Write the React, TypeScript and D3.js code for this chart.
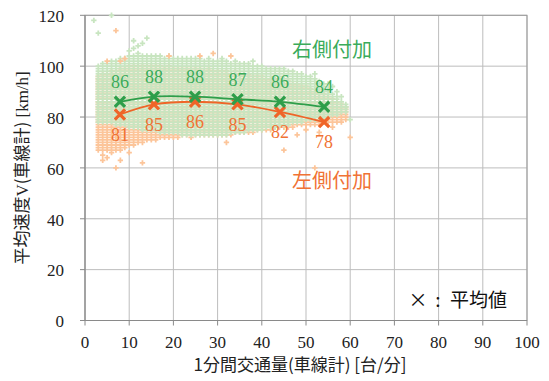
import React from 'react';
import * as d3 from 'd3';

// Traffic flow per minute (vehicles/min, all lanes), integer steps of the scatter grid
const flowSteps = [3, 4, 5, 6, 7, 8, 9, 10, 11, 12, 13, 14, 15, 16, 17, 18, 19, 20, 21, 22, 23, 24, 25, 26, 27, 28, 29, 30, 31, 32, 33, 34, 35, 36, 37, 38, 39, 40, 41, 42, 43, 44, 45, 46, 47, 48, 49, 50, 51, 52, 53, 54, 55, 56, 57, 58, 59];

// Observed speed range (km/h) per flow step — right-side added lane
const rightLow = [78, 78, 78, 78, 77, 77, 77, 76, 76, 76, 75, 75, 75, 75, 74, 74, 74, 74, 74, 73, 73, 73, 73, 73, 73, 73, 73, 73, 73, 73, 74, 74, 74, 74, 75, 75, 75, 75, 76, 76, 76, 77, 77, 77, 78, 78, 78, 79, 79, 79, 80, 80, 80, 81, 81, 82, 82];
const rightHigh = [100, 101, 101, 102, 102, 103, 103, 104, 104, 105, 104, 104, 104, 104, 104, 103, 104, 103, 103, 103, 103, 103, 103, 103, 102, 103, 102, 102, 102, 102, 101, 102, 101, 101, 101, 100, 100, 100, 99, 99, 99, 99, 99, 98, 98, 97, 97, 96, 96, 95, 94, 93, 91, 89, 88, 86, 85];

// Observed speed range (km/h) per flow step — left-side added lane
const leftLow = [67, 67, 67, 66, 67, 67, 68, 69, 69, 70, 70, 71, 71, 71, 72, 72, 72, 72, 72, 73, 73, 72, 73, 73, 73, 73, 73, 73, 73, 73, 73, 74, 74, 74, 74, 74, 75, 75, 75, 75, 76, 76, 76, 76, 76, 77, 77, 77, 77, 77, 77, 78, 78, 78, 78, 79, 79];
const leftHigh = [96, 97, 97, 98, 98, 99, 99, 100, 100, 100, 100, 100, 100, 100, 100, 99, 100, 99, 99, 99, 99, 99, 99, 99, 98, 99, 98, 98, 98, 98, 97, 98, 97, 97, 97, 96, 96, 96, 95, 95, 95, 95, 94, 94, 93, 93, 92, 92, 91, 90, 90, 89, 88, 87, 86, 85, 84];

// Isolated observations outside the dense range: [flow, speed]
const rightOutliers: [number, number][] = [
  [2, 118], [3, 113], [6, 120], [11, 110], [11, 107], [12, 108], [13, 109], [14, 111], [10, 106],
  [31, 103], [38, 102], [52, 97], [55, 93], [56, 92], [58, 88], [59, 84], [60, 79], [57, 90],
];
const leftOutliers: [number, number][] = [
  [7, 114], [8, 102], [9, 103], [19, 104], [26, 104], [29, 105], [33, 104], [5, 102],
  [4, 65], [4, 63], [7, 60], [8, 63], [13, 62], [5, 64], [10, 66],
  [32, 70], [45, 67], [52, 60], [48, 73], [50, 75], [58, 78], [60, 72], [56, 76], [53, 74],
];

// Mean speed per flow class
const meanFlow = [7.9, 15.6, 24.9, 34.5, 44.1, 54.1];
const rightMean = [86, 88, 88, 87, 86, 84];
const leftMean = [81, 85, 86, 85, 82, 78];

const xTicks = [0, 10, 20, 30, 40, 50, 60, 70, 80, 90, 100];
const yTicks = [0, 20, 40, 60, 80, 100, 120];

const W = 549;
const H = 381;
const plot = { left: 85, right: 527, top: 15.3, bottom: 320.5 };

const GREEN = '#2e9e4a';
const GREEN_TEXT = '#3aab5a';
const GREEN_DOT = '#c8e5c0';
const ORANGE = '#ef6528';
const ORANGE_TEXT = '#f07234';
const ORANGE_DOT = '#fcc59a';

const SERIF = 'Times New Roman';
const JP = 'Noto Sans CJK JP';

const x = d3.scaleLinear().domain([0, 100]).range([plot.left, plot.right]);
const y = d3.scaleLinear().domain([0, 120]).range([plot.bottom, plot.top]);

// stroked × used for the mean markers
const xMark = d3.symbol(d3.symbolTimes, 70)() as string;

function cloudPoints(lo: number[], hi: number[]): [number, number][] {
  const pts: [number, number][] = [];
  flowSteps.forEach((f, i) => {
    for (let v = lo[i]; v <= hi[i]; v++) pts.push([f, v]);
  });
  return pts;
}

// small crosses for the observations, merged into one path
function dotsPath(pts: [number, number][]): string {
  const p = d3.path();
  pts.forEach(([f, v]) => {
    const cx = x(f);
    const cy = y(v);
    const ctx = {
      moveTo: (a: number, b: number) => p.moveTo(a + cx, b + cy),
      lineTo: (a: number, b: number) => p.lineTo(a + cx, b + cy),
      closePath: () => p.closePath(),
    };
    d3.symbolCross.draw(ctx as any, 16);
  });
  return p.toString();
}

function MeanSeries({ values, color, textColor, above }: { values: number[]; color: string; textColor: string; above: boolean }) {
  const line = d3
    .line<number>()
    .x((_, i) => x(meanFlow[i]))
    .y((v) => y(v))
    .curve(d3.curveCatmullRom.alpha(0.5));
  return (
    <g>
      <path d={line(values) as string} fill="none" stroke={color} strokeWidth={1.8} />
      {values.map((v, i) => (
        <path
          key={i}
          d={xMark}
          transform={`translate(${x(meanFlow[i])},${y(v)})`}
          fill="none"
          stroke={color}
          strokeWidth={3.2}
        />
      ))}
      {values.map((v, i) => (
        <text
          key={'t' + i}
          x={x(meanFlow[i])}
          y={y(v) + (above ? -20 : 20)}
          dy="0.35em"
          textAnchor="middle"
          fontSize={18}
          fill={textColor}
        >
          {v}
        </text>
      ))}
    </g>
  );
}

export default function App() {
  return (
    <svg
      width={W}
      height={H}
      fontFamily={SERIF}
      style={{ position: 'absolute', left: 0, top: 0, background: '#fff', fontFamily: SERIF }}
    >
      {/* grid */}
      <g stroke="#bdbdbd" strokeWidth={1}>
        {xTicks.map((t) => (
          <line key={'gx' + t} x1={x(t)} x2={x(t)} y1={plot.top} y2={plot.bottom} />
        ))}
        {yTicks.map((t) => (
          <line key={'gy' + t} x1={plot.left} x2={plot.right} y1={y(t)} y2={y(t)} />
        ))}
      </g>
      <rect x={plot.left} y={plot.top} width={plot.right - plot.left} height={plot.bottom - plot.top} fill="none" stroke="#9a9a9a" />

      {/* scatter clouds */}
      <path d={dotsPath(cloudPoints(leftLow, leftHigh))} fill={ORANGE_DOT} />
      <path d={dotsPath(cloudPoints(rightLow, rightHigh))} fill={GREEN_DOT} />
      <path d={dotsPath(leftOutliers)} fill={ORANGE_DOT} />
      <path d={dotsPath(rightOutliers)} fill={GREEN_DOT} />

      {/* means */}
      <MeanSeries values={leftMean} color={ORANGE} textColor={ORANGE_TEXT} above={false} />
      <MeanSeries values={rightMean} color={GREEN} textColor={GREEN_TEXT} above={true} />

      {/* axes */}
      <g stroke="#8a8a8a" strokeWidth={1}>
        <line x1={plot.left} x2={plot.left} y1={plot.top} y2={plot.bottom} />
        <line x1={plot.left} x2={plot.right} y1={plot.bottom} y2={plot.bottom} />
        {xTicks.map((t) => (
          <line key={'tx' + t} x1={x(t)} x2={x(t)} y1={plot.bottom} y2={plot.bottom + 5} />
        ))}
        {yTicks.map((t) => (
          <line key={'ty' + t} x1={plot.left - 5} x2={plot.left} y1={y(t)} y2={y(t)} />
        ))}
      </g>
      {xTicks.map((t) => (
        <text key={'lx' + t} x={x(t)} y={348} textAnchor="middle" fontSize={17} fill="#222">
          {t}
        </text>
      ))}
      {yTicks.map((t) => (
        <text key={'ly' + t} x={64} y={y(t)} dy="0.4em" textAnchor="end" fontSize={17} fill="#222">
          {t}
        </text>
      ))}

      {/* axis titles */}
      <text x={300} y={371} textAnchor="middle" fontSize={17} fontFamily={JP} fill="#222">
        1分間交通量(車線計) [台/分]
      </text>
      <text
        transform={`translate(28,${(plot.top + plot.bottom) / 2}) rotate(-90)`}
        textAnchor="middle"
        fontSize={17}
        fontFamily={JP}
        fill="#222"
      >
        平均速度<tspan fontFamily={SERIF}>V</tspan>(車線計)<tspan fontFamily={SERIF}> [km/h]</tspan>
      </text>

      {/* annotations */}
      <text x={292} y={50} dy="0.36em" fontSize={20} fontFamily={JP} fill={GREEN_TEXT}>
        右側付加
      </text>
      <text x={292} y={181} dy="0.36em" fontSize={20} fontFamily={JP} fill={ORANGE_TEXT}>
        左側付加
      </text>
      <text x={418} y={300} dy="0.36em" textAnchor="middle" fontSize={19} fontFamily={JP} fill="#111">×</text>
      <text x={438} y={300} dy="0.36em" textAnchor="middle" fontSize={19} fontFamily={JP} fill="#111">:</text>
      <text x={450} y={300} dy="0.36em" fontSize={19} fontFamily={JP} fill="#111">平均値</text>
    </svg>
  );
}
